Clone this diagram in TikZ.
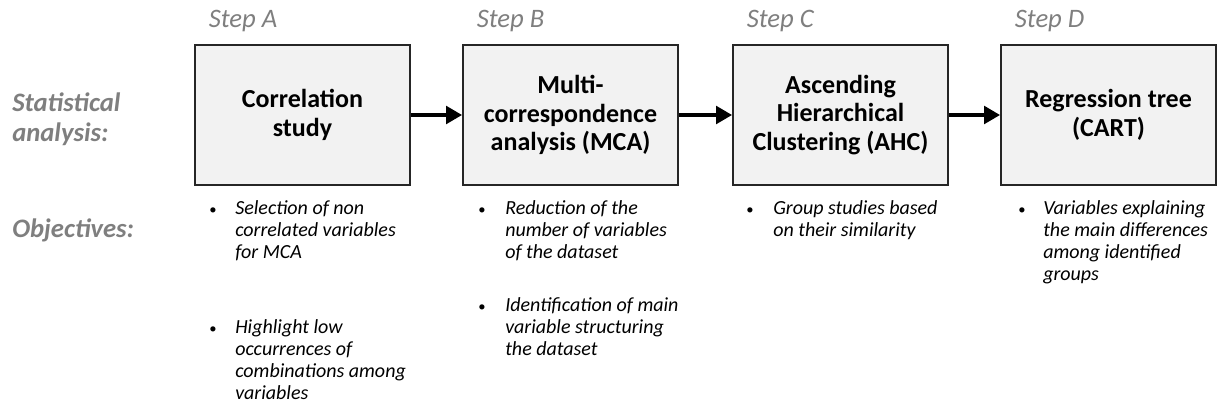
\documentclass[tikz,border=0pt]{standalone}
\usepackage{fontspec}
\setmainfont{Carlito}
\usetikzlibrary{arrows.meta}
\definecolor{labelgray}{RGB}{127,127,127}
\definecolor{boxfill}{RGB}{242,242,242}

\begin{document}
\begin{tikzpicture}[x=0.75pt,y=-0.75pt,
  stepbox/.style={draw=black!85, line width=1.3pt, fill=boxfill, inner sep=0pt,
    minimum width=161.25pt, minimum height=105pt, align=center,
    font=\fontsize{19.5}{21.5}\selectfont\bfseries},
  steplabel/.style={anchor=base west, inner sep=0pt, text=labelgray,
    font=\fontsize{20}{22}\selectfont\itshape},
  rowlabel/.style={anchor=base west, inner sep=0pt, align=left, text=labelgray,
    font=\fontsize{20}{22.5}\selectfont\bfseries\itshape},
  item/.style={anchor=base west, inner sep=0pt, align=left,
    font=\fontsize{15}{16.5}\selectfont\itshape},
  dot/.style={anchor=base, inner sep=0pt, font=\fontsize{11}{12}\selectfont},
  flow/.style={line width=3.5pt, -{Triangle[length=12pt,width=13pt]}}]
\useasboundingbox (0,0) rectangle (1223,417);

% row labels (base anchor sits on the last line)
\node[rowlabel] (stat) at (12,142) {Statistical\\analysis:};
\node[rowlabel] (obj) at (12,237) {Objectives:};

% the four steps
\foreach \n/\x/\s/\t in {corr/302.5/A/{Correlation\\study},
    mca/570.5/B/{Multi-\\correspondence\\analysis (MCA)},
    ahc/840.5/C/{Ascending\\Hierarchical\\Clustering (AHC)},
    cart/1108.5/D/{Regression tree\\(CART)}} {
  \node[stepbox] (\n) at (\x,115) {\t};
  \node[steplabel] (step\s) at (\x-94,28) {Step \s};
}

\draw[flow] (corr) -- (mca);
\draw[flow] (mca) -- (ahc);
\draw[flow] (ahc) -- (cart);

% objectives
\node[dot] (dotA1) at (213,214) {•};
\node[item] (objA1) at (235,258) {Selection of non\\correlated variables\\for MCA};
\node[dot] (dotA2) at (213,333) {•};
\node[item] (objA2) at (235,399) {Highlight low\\occurrences of\\combinations among\\variables};
\node[dot] (dotB1) at (482,214) {•};
\node[item] (objB1) at (505,258) {Reduction of the\\number of variables\\of the dataset};
\node[dot] (dotB2) at (482,311) {•};
\node[item] (objB2) at (505,355) {Identification of main\\variable structuring\\the dataset};
\node[dot] (dotC1) at (750,214) {•};
\node[item] (objC1) at (773,236) {Group studies based\\on their similarity};
\node[dot] (dotD1) at (1022,214) {•};
\node[item] (objD1) at (1043,280) {Variables explaining\\the main differences\\among identified\\groups};
\end{tikzpicture}
\end{document}
